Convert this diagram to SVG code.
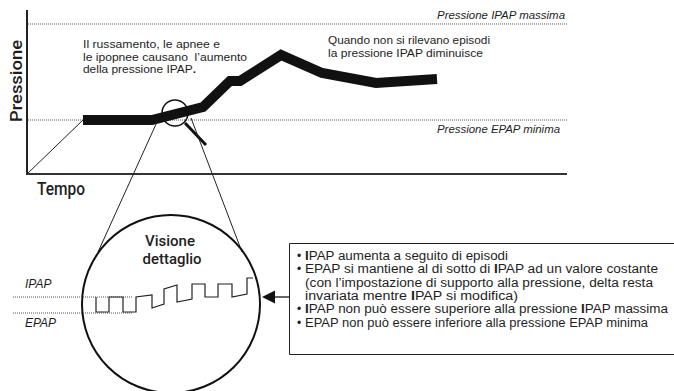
<svg xmlns="http://www.w3.org/2000/svg" width="674" height="391" viewBox="0 0 674 391">
<style>
text{font-family:"Liberation Sans",Arial,sans-serif;fill:#1e1e1e}
.note{font-size:11px}
.lab{font-size:11px;font-style:italic}
.big{font-family:Roboto,"Liberation Sans",sans-serif;font-size:17px;font-weight:500}
.box{font-size:12px}
.b{font-weight:bold}
.dot{stroke:#555;stroke-width:1;stroke-dasharray:1 1;fill:none}
.thin{stroke:#222;stroke-width:1;fill:none}
</style>
<rect width="674" height="391" fill="#fff"/>
<g id="axes">
<line x1="27" y1="10" x2="27" y2="175" stroke="#222" stroke-width="2"/>
<line x1="26" y1="174" x2="567" y2="174" stroke="#333" stroke-width="2"/>
<text class="big" transform="translate(22,81) rotate(-90)" text-anchor="middle" textLength="82" lengthAdjust="spacingAndGlyphs">Pressione</text>
<text class="big" x="37" y="195" style="font-size:18px" textLength="48" lengthAdjust="spacingAndGlyphs">Tempo</text>
</g>
<g id="limits">
<line class="dot" x1="28" y1="24" x2="567" y2="24"/>
<line class="dot" x1="28" y1="120" x2="567" y2="120"/>
<text class="lab" x="437" y="19" textLength="128" lengthAdjust="spacingAndGlyphs">Pressione IPAP massima</text>
<text class="lab" x="437" y="133" textLength="123" lengthAdjust="spacingAndGlyphs">Pressione EPAP minima</text>
</g>
<g id="notes">
<text class="note" x="83" y="48" textLength="137" lengthAdjust="spacingAndGlyphs">Il russamento, le apnee e</text>
<text class="note" x="83" y="60.5" xml:space="preserve" textLength="164" lengthAdjust="spacingAndGlyphs">le ipopnee causano  l’aumento</text>
<text class="note" x="83" y="73" textLength="113" lengthAdjust="spacingAndGlyphs">della pressione IPAP<tspan class="b">.</tspan></text>
<text class="note" x="328" y="44" textLength="162" lengthAdjust="spacingAndGlyphs">Quando non si rilevano episodi</text>
<text class="note" x="328" y="56.5" textLength="155" lengthAdjust="spacingAndGlyphs">la pressione IPAP diminuisce</text>
</g>
<g id="curve">
<line class="thin" x1="27" y1="174" x2="83" y2="120"/>
<polyline points="83,120 152,120 203,107 230,81 240,81 281,55 322,73 376,83 437,79" fill="none" stroke="#111" stroke-width="10" stroke-linejoin="miter"/>
</g>
<g id="magnifier">
<circle cx="175" cy="113" r="13" fill="none" stroke="#111" stroke-width="1.5"/>
<line x1="185" y1="123" x2="206" y2="145" stroke="#111" stroke-width="3"/>
</g>
<g id="connectors">
<line class="thin" x1="157" y1="122" x2="98" y2="252"/>
<line class="thin" x1="191" y1="118" x2="242" y2="252"/>
<line x1="289" y1="297" x2="273" y2="297" stroke="#333" stroke-width="1.5"/>
<polygon points="262,297 275,290.5 275,303.5" fill="#111"/>
</g>
<g id="detail">
<circle cx="171" cy="304" r="89" fill="none" stroke="#111" stroke-width="2"/>
<text class="big" x="170" y="246" text-anchor="middle" style="font-size:14.5px" textLength="50" lengthAdjust="spacingAndGlyphs">Visione</text>
<text class="big" x="172" y="264" text-anchor="middle" style="font-size:14.5px" textLength="59" lengthAdjust="spacingAndGlyphs">dettaglio</text>
<line class="dot" x1="13" y1="297" x2="132" y2="297"/>
<line class="dot" x1="13" y1="313" x2="132" y2="313"/>
<text class="lab" x="25" y="288" style="font-size:12px">IPAP</text>
<text class="lab" x="25" y="327" style="font-size:12px">EPAP</text>
<path d="M96,297 V312 H109 V297 H123 V312 H136 V297 L152,295 V308 L164,304 V289 L177,285 V302 L192,299 V284 H205 V297 H218 V284 H232 V297 L247,294 V278 H253" fill="none" stroke="#222" stroke-width="1.2"/>
</g>
<g id="infobox">
<path d="M680,243.5 H289.5 V354.5 H680" fill="none" stroke="#222" stroke-width="1"/>
<g class="box">
<text x="297" y="260">•</text>
<text x="305" y="260" textLength="203" lengthAdjust="spacingAndGlyphs"><tspan class="b">I</tspan>PAP aumenta a seguito di episodi</text>
<text x="297" y="273.3">•</text>
<text x="305" y="273.3" textLength="353" lengthAdjust="spacingAndGlyphs">EPAP si mantiene al di sotto di <tspan class="b">I</tspan>PAP ad un valore costante</text>
<text x="305" y="286.7" textLength="348" lengthAdjust="spacingAndGlyphs">(con l’impostazione di supporto alla pressione, delta resta</text>
<text x="305" y="300" textLength="213" lengthAdjust="spacingAndGlyphs">invariata mentre <tspan class="b">I</tspan>PAP si modifica)</text>
<text x="297" y="313.3">•</text>
<text x="305" y="313.3" textLength="363" lengthAdjust="spacingAndGlyphs"><tspan class="b">I</tspan>PAP non può essere superiore alla pressione <tspan class="b">I</tspan>PAP massima</text>
<text x="297" y="326.7">•</text>
<text x="305" y="326.7" textLength="343" lengthAdjust="spacingAndGlyphs">EPAP non può essere inferiore alla pressione EPAP minima</text>
</g>
</g>
</svg>
